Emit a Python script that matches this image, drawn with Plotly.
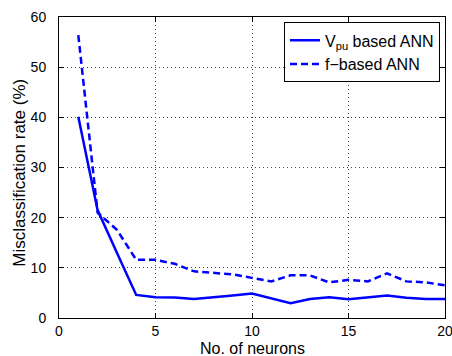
import plotly.graph_objects as go

neurons = list(range(1, 21))
vpu_rate = [40.1, 21.5, 13.0, 4.6, 4.15, 4.1, 3.8, 4.1, 4.5, 4.9, 3.9, 2.95, 3.8, 4.15, 3.75, 4.1, 4.5, 4.05, 3.8, 3.8]
f_rate = [56.4, 21.0, 17.6, 11.6, 11.6, 10.8, 9.3, 9.0, 8.7, 8.0, 7.3, 8.5, 8.5, 7.1, 7.6, 7.3, 8.9, 7.3, 7.1, 6.5]

x_ticks = [0, 5, 10, 15, 20]
y_ticks = [0, 10, 20, 30, 40, 50, 60]

FONT = "Liberation Sans, Arial, sans-serif"

fig = go.Figure()
fig.add_trace(go.Scatter(x=neurons, y=vpu_rate, mode="lines",
                         name="V<sub>pu</sub> based ANN",
                         line=dict(color="#0000FF", width=2.5)))
fig.add_trace(go.Scatter(x=neurons, y=f_rate, mode="lines",
                         name="f\u2212based ANN",
                         line=dict(color="#0000FF", width=2.5, dash="7px,4px")))

axis_common = dict(
    showline=True, linecolor="black", linewidth=1, mirror="allticks",
    ticks="inside", ticklen=5, tickcolor="black",
    showgrid=True, gridcolor="rgb(70,70,70)", gridwidth=1, griddash="1px,3px",
    zeroline=False, automargin=False, ticklabeloverflow="allow",
    tickfont=dict(family=FONT, size=14, color="black"),
)

fig.update_xaxes(range=[0, 20], tickvals=x_ticks, ticklabelstandoff=0, **axis_common)
fig.update_yaxes(range=[0, 60], tickvals=y_ticks, ticklabelstandoff=9, **axis_common)

fig.add_annotation(text="No. of neurons", xref="paper", yref="paper",
                   x=0.5, y=-0.1015, xanchor="center", yanchor="middle",
                   showarrow=False, font=dict(family=FONT, size=16, color="black"))
fig.add_annotation(text="Misclassification rate (%)", xref="paper", yref="paper",
                   x=-0.101, y=0.4825, xanchor="center", yanchor="middle", textangle=-90,
                   showarrow=False, font=dict(family=FONT, size=17, color="black"))

fig.update_layout(
    width=452, height=356,
    margin=dict(l=59, r=7, t=17, b=38),
    paper_bgcolor="white", plot_bgcolor="white",
    font=dict(family=FONT, size=14, color="black"),
    legend=dict(x=0.987, y=0.982, xanchor="right", yanchor="top",
                bgcolor="white", bordercolor="black", borderwidth=1,
                font=dict(family=FONT, size=16, color="black")),
    showlegend=True,
)

fig.write_html("out.html", config={"displayModeBar": False},
               post_script="document.body.style.margin='0px';")
